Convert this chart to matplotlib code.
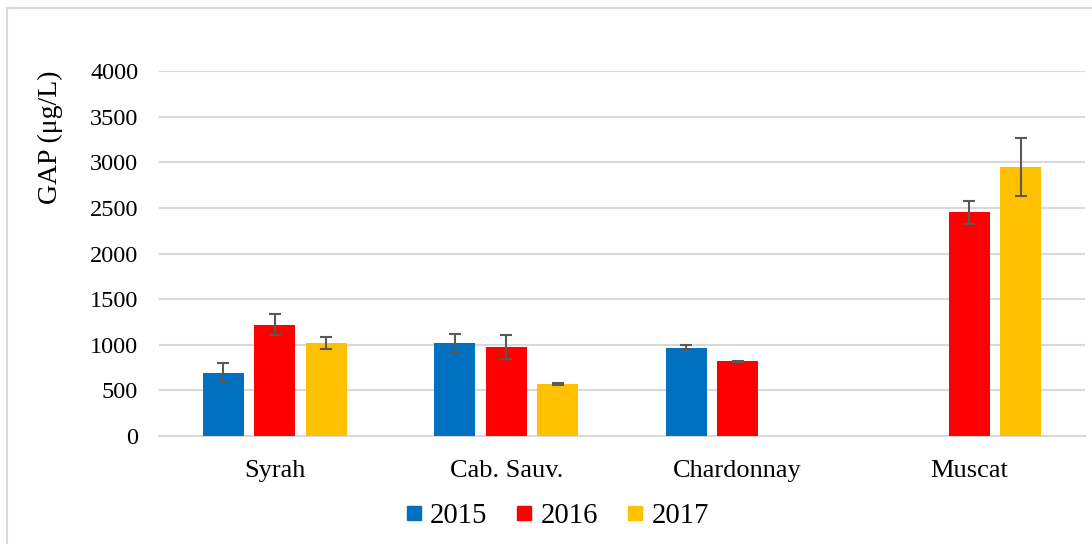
import matplotlib
matplotlib.use("Agg")
import matplotlib.pyplot as plt
from matplotlib.lines import Line2D
import numpy as np

categories = ["Syrah", "Cab. Sauv.", "Chardonnay", "Muscat"]
years = ["2015", "2016", "2017"]
vals_2015 = [694, 1016, 961, np.nan]
vals_2016 = [1220, 975, 818, 2451]
vals_2017 = [1016, 570, np.nan, 2948]
err_2015 = [105, 100, 33, np.nan]
err_2016 = [112, 130, 5, 124]
err_2017 = [66, 8, np.nan, 323]
colors = ["#0070C0", "#FF0000", "#FFC000"]
yticks = [0, 500, 1000, 1500, 2000, 2500, 3000, 3500, 4000]

serif = ["Liberation Serif", "DejaVu Serif"]
plt.rcParams["font.family"] = serif

W, H = 1092, 544
fig = plt.figure(figsize=(W / 100, H / 100), dpi=100)
ax = fig.add_axes([159 / W, 1 - 436 / H, (1085 - 159) / W, (436 - 71) / H])

x = np.arange(len(categories))
offset = 0.222
width = 0.177
series = [vals_2015, vals_2016, vals_2017]
errs = [err_2015, err_2016, err_2017]
for i, (v, e, c) in enumerate(zip(series, errs, colors)):
    pos = x + (i - 1) * offset
    ax.bar(pos, v, width, color=c, edgecolor="none", zorder=3, label=years[i])
    ax.errorbar(pos, v, yerr=e, fmt="none", ecolor="#595959", elinewidth=1.5,
                capsize=4.5, capthick=1.5, zorder=4)

ax.set_xlim(-0.5, len(categories) - 0.5)
ax.set_ylim(0, 4000)
ax.set_yticks(yticks)
ax.set_xticks(x)
ax.set_xticklabels(categories, fontsize=19)
ax.tick_params(axis="y", length=0, pad=15, labelsize=17.5)
ax.tick_params(axis="x", length=0, pad=17)
ax.grid(axis="y", color="#D9D9D9", linewidth=1.5, zorder=0)
for s in ["top", "right", "left"]:
    ax.spines[s].set_visible(False)
ax.spines["bottom"].set_color("#D9D9D9")
ax.spines["bottom"].set_linewidth(1.5)
ax.spines["bottom"].set_zorder(1)

fig.text(50 / W, 1 - 137 / H, "GAP (μg/L)", rotation=90, ha="center", va="center",
         fontsize=20)

handles = [Line2D([], [], marker="s", linestyle="none", markersize=10.5,
                  markerfacecolor=c, markeredgecolor=c) for c in colors]
fig.legend(handles, years, loc="center", bbox_to_anchor=(557 / W, 1 - 516 / H),
           ncol=3, frameon=False, fontsize=20.7, handletextpad=0.26,
           columnspacing=1.0, handlelength=0.6)

# chart-area border (top and left visible)
fig.add_artist(Line2D([7 / W, 1], [1 - 8 / H, 1 - 8 / H], transform=fig.transFigure,
                      color="#D9D9D9", linewidth=1.5))
fig.add_artist(Line2D([7 / W, 7 / W], [0, 1 - 8 / H], transform=fig.transFigure,
                      color="#D9D9D9", linewidth=1.5))

fig.savefig("out.png", dpi=100)
